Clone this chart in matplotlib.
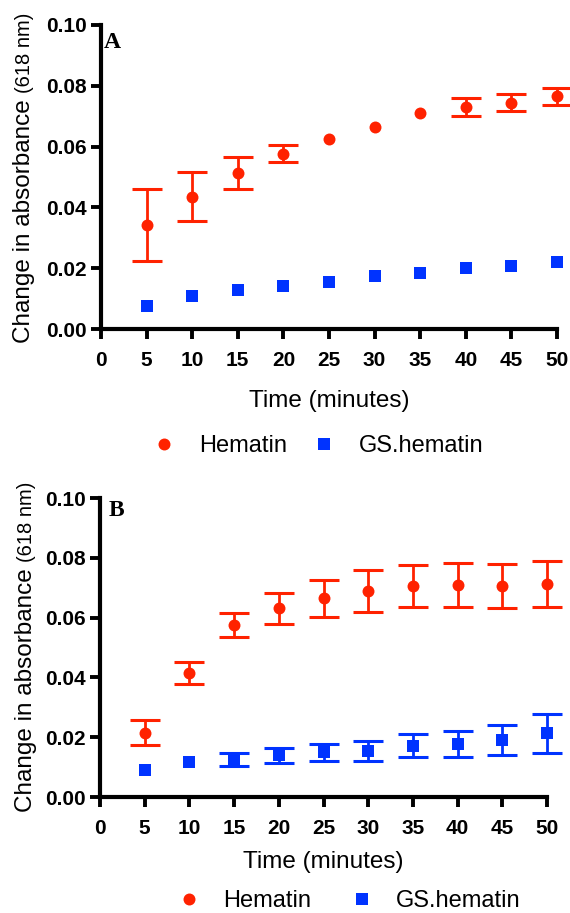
import numpy as np
import matplotlib
matplotlib.use("Agg")
import matplotlib.pyplot as plt
from matplotlib.lines import Line2D

plt.rcParams['font.family'] = ['Liberation Sans', 'DejaVu Sans']

# ---------------- data ----------------
time_min = [5, 10, 15, 20, 25, 30, 35, 40, 45, 50]

a_hematin = [0.0342, 0.0435, 0.0513, 0.0577, 0.0626, 0.0666, 0.0710, 0.0731, 0.0744, 0.0766]
a_hematin_err = [0.0119, 0.0080, 0.0054, 0.0028, 0.0, 0.0, 0.0, 0.0030, 0.0028, 0.0028]
a_gs = [0.0075, 0.0108, 0.0127, 0.0143, 0.0153, 0.0175, 0.0184, 0.0202, 0.0207, 0.0219]
a_gs_err = [0, 0, 0, 0, 0, 0, 0, 0, 0, 0]

b_hematin = [0.0215, 0.0415, 0.0575, 0.0631, 0.0665, 0.0689, 0.0706, 0.0710, 0.0706, 0.0712]
b_hematin_err = [0.0041, 0.0037, 0.0039, 0.0051, 0.0062, 0.0070, 0.0069, 0.0073, 0.0073, 0.0076]
b_gs = [0.0090, 0.0118, 0.0126, 0.0139, 0.0150, 0.0155, 0.0172, 0.0177, 0.0191, 0.0213]
b_gs_err = [0, 0, 0.0021, 0.0026, 0.0028, 0.0033, 0.0039, 0.0044, 0.0049, 0.0066]

x_ticks = [0, 5, 10, 15, 20, 25, 30, 35, 40, 45, 50]
y_ticks = [0.00, 0.02, 0.04, 0.06, 0.08, 0.10]
series_names = ["Hematin", "GS.hematin"]
panel_names = ["A", "B"]

RED = "#FF2200"
BLUE = "#0033FF"

W, H = 570, 913
fig = plt.figure(figsize=(W / 100, H / 100), dpi=100)


def fx(px):
    return px / W


def fy(py):
    return 1 - py / H


def make_axes(l, r, t, b):
    return fig.add_axes([fx(l), fy(b), fx(r) - fx(l), fy(t) - fy(b)])


def draw_panel(ax, hem, hem_err, gs, gs_err):
    x = np.array(time_min, dtype=float)
    for y, e, c, m in [(hem, hem_err, RED, 'o'), (gs, gs_err, BLUE, 's')]:
        y = np.array(y); e = np.array(e)
        keep = e > 0
        if keep.any():
            ax.errorbar(x[keep], y[keep], yerr=e[keep], fmt='none', ecolor=c,
                        elinewidth=2.0, capsize=11, capthick=2.2, clip_on=False, zorder=3)
        ax.plot(x, y, linestyle='none', marker=m, color=c, markersize=8.6 if m == 'o' else 9,
                markeredgewidth=0, clip_on=False, zorder=4)
    ax.set_xlim(0, 50)
    ax.set_ylim(0, 0.10)
    ax.set_xticks(x_ticks)
    ax.set_yticks(y_ticks)
    ax.set_yticklabels([f"{v:.2f}" for v in y_ticks])
    for s in ['top', 'right']:
        ax.spines[s].set_visible(False)
    for s in ['left', 'bottom']:
        ax.spines[s].set_linewidth(3.0)
    ax.tick_params(axis='both', length=7.5, width=2.8, direction='out')
    ax.tick_params(axis='x', pad=8)
    ax.tick_params(axis='y', pad=2.5)
    for lab in ax.get_xticklabels() + ax.get_yticklabels():
        lab.set_fontsize(15)
        lab.set_fontweight('bold')


# panel geometry (pixels)
axA = make_axes(101, 557, 25, 329)
axB = make_axes(100, 547, 498, 797)

draw_panel(axA, a_hematin, a_hematin_err, a_gs, a_gs_err)
draw_panel(axB, b_hematin, b_hematin_err, b_gs, b_gs_err)

# x labels
for ax, yc, top, bot in [(axA, 401, 25, 329), (axB, 862, 498, 797)]:
    ax.set_xlabel("Time (minutes)", fontsize=17.5)
    ax.xaxis.set_label_coords(0.5, -(yc - bot) / (bot - top))
    ax.xaxis.label.set_va('center')

# panel letters
fig.text(fx(104), fy(43), panel_names[0], fontsize=17, fontweight='bold',
         family='Liberation Serif', ha='left', va='center')
fig.text(fx(109), fy(510), panel_names[1], fontsize=17, fontweight='bold',
         family='Liberation Serif', ha='left', va='center')

# y labels made from two parts of different size
fig.canvas.draw()
renderer = fig.canvas.get_renderer()


def two_part_ylabel(x_base, yc):
    t1 = fig.text(0, 0, "Change in absorbance", rotation=90, rotation_mode='anchor',
                  ha='left', va='baseline', fontsize=17.5)
    t2 = fig.text(0, 0, "(618 nm)", rotation=90, rotation_mode='anchor',
                  ha='left', va='baseline', fontsize=14.5)
    gap = 6
    l1 = t1.get_window_extent(renderer).height
    l2 = t2.get_window_extent(renderer).height
    total = l1 + gap + l2
    start = yc + total / 2  # pixel from top
    t1.set_position((fx(x_base), fy(start)))
    t2.set_position((fx(x_base), fy(start - l1 - gap)))


two_part_ylabel(30, 178)
two_part_ylabel(32, 647)

# legends
handles = [Line2D([], [], linestyle='none', marker='o', color=RED, markersize=8.6, markeredgewidth=0),
           Line2D([], [], linestyle='none', marker='s', color=BLUE, markersize=9, markeredgewidth=0)]
fig.legend(handles, series_names, loc='center', bbox_to_anchor=(fx(318), fy(446)), ncol=2,
           frameon=False, fontsize=17, handlelength=1.0, handletextpad=1.0, columnspacing=1.05,
           borderpad=0)
fig.legend(handles, series_names, loc='center', bbox_to_anchor=(fx(349), fy(901)), ncol=2,
           frameon=False, fontsize=17, handlelength=1.0, handletextpad=0.95, columnspacing=1.65,
           borderpad=0)

fig.savefig("out.png", dpi=100)
